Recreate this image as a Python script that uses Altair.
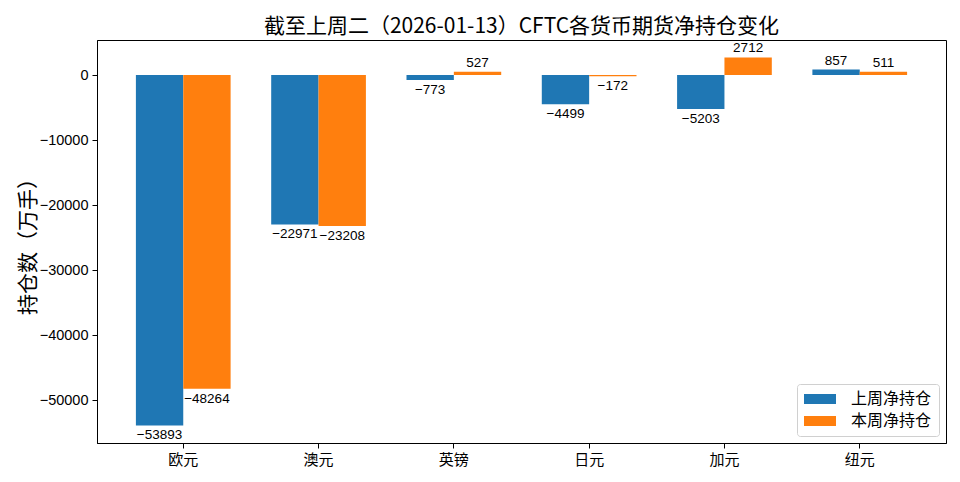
import altair as alt
import pandas as pd

categories = ["欧元", "澳元", "英镑", "日元", "加元", "纽元"]
series = ["上周净持仓", "本周净持仓"]
last_week = [-53893, -22971, -773, -4499, -5203, 857]
this_week = [-48264, -23208, 527, -172, 2712, 511]

rows = []
for c, a, b in zip(categories, last_week, this_week):
    rows.append({"cat": c, "series": series[0], "value": a})
    rows.append({"cat": c, "series": series[1], "value": b})
df = pd.DataFrame(rows)

FONT = "Noto Sans CJK SC"
NUM = "Liberation Sans"

x = alt.X("cat:N", sort=categories, title=None,
          scale=alt.Scale(paddingInner=0.3, paddingOuter=0.2875),
          axis=alt.Axis(labelAngle=0, labelFontSize=15, labelColor="black", labelFont=FONT,
                        tickColor="black", domainColor="black", tickSize=5,
                        labelPadding=4))
xo = alt.XOffset("series:N", sort=series, scale=alt.Scale(paddingInner=0, paddingOuter=0))
y = alt.Y("value:Q", title="持仓数（万手）",
          scale=alt.Scale(domain=[-56600, 5400], nice=False, zero=False),
          axis=alt.Axis(values=[0, -10000, -20000, -30000, -40000, -50000],
                        format="d", grid=False, labelFontSize=14.5, labelColor="black",
                        labelFont=NUM,
                        tickColor="black", domainColor="black", tickSize=5,
                        titleFontSize=21, titleFontWeight="normal", titleColor="black",
                        titleFont=FONT, titleAngle=-90, titleX=-69, titleY=201,
                        titleAlign="center", titleBaseline="middle", labelPadding=4))
color = alt.Color("series:N", sort=series,
                  scale=alt.Scale(domain=series, range=["#1f77b4", "#ff7f0e"]),
                  legend=alt.Legend(title=None, orient="bottom-right", offset=7,
                                    symbolType="M-1,-0.625H3V0.625H-1Z", symbolSize=256,
                                    symbolStrokeWidth=0, labelFontSize=16, labelFont=FONT,
                                    labelColor="black", fillColor="white",
                                    strokeColor="#d0d0d0", cornerRadius=3,
                                    padding=7, rowPadding=6, labelOffset=31))

bars = alt.Chart(df).mark_bar().encode(x=x, xOffset=xo, y=y, y2=alt.datum(0), color=color)

neg = alt.Chart(df).transform_filter("datum.value < 0").mark_text(
    baseline="top", dy=3, fontSize=13.5, color="black", font=NUM
).encode(x=x, xOffset=xo, y=y, text=alt.Text("value:Q", format="d"))

pos = alt.Chart(df).transform_filter("datum.value >= 0").mark_text(
    baseline="bottom", dy=-2, fontSize=13.5, color="black", font=NUM
).encode(x=x, xOffset=xo, y=y, text=alt.Text("value:Q", format="d"))

chart = alt.layer(bars, neg, pos).properties(
    width=849, height=403,
    title=alt.Title("截至上周二（2026-01-13）CFTC各货币期货净持仓变化",
                    fontSize=21, fontWeight="normal", color="black", offset=3, font=FONT),
    autosize=alt.AutoSizeParams(type="none"),
    padding={"left": 89, "top": 32, "right": 6, "bottom": 40},
).configure(font=FONT).configure_view(stroke="black", strokeWidth=1)

chart.save("out.html", embed_options={"renderer": "svg", "actions": False})
